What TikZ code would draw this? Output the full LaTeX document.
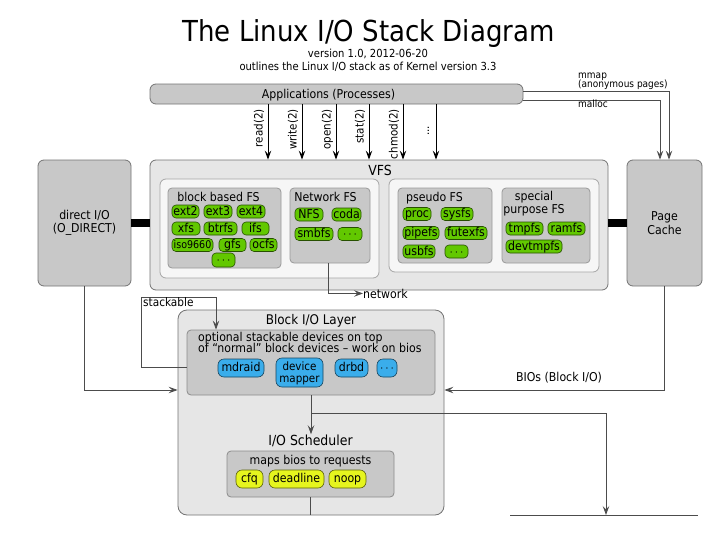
\documentclass[tikz,border=0pt]{standalone}
\usepackage{fontspec}
\setmainfont{DejaVu Sans}[FakeStretch=0.9]
\usetikzlibrary{arrows.meta}

\newcommand{\fs}[2]{\fontsize{#1}{#2}\selectfont}

\begin{document}
\begin{tikzpicture}[x=1pt, y=-1pt]
    \definecolor{fsgreen}{HTML}{62C800}
    \definecolor{devblue}{HTML}{3AADEB}
    \definecolor{schedyellow}{HTML}{E6F51E}
    \definecolor{boxgray}{HTML}{C8C8C8}
    \definecolor{layergray}{HTML}{E6E6E6}
    \definecolor{innergray}{HTML}{F6F6F6}
    \tikzset{
        frame/.style={draw=black!55, line width=0.8pt, rounded corners=6pt, inner sep=0pt},
        pill/.style={draw=#1!40!black, fill=#1, line width=0.6pt, rounded corners=4pt,
            inner sep=0pt, minimum height=13pt, text height=0.7em, text depth=0pt,
            font=\fs{12.2}{12.2}},
        txt/.style={inner sep=0pt, font=\fs{12.2}{12.2}},
        conn/.style={draw=black!70, line width=0.8pt},
        tip/.style={-{Stealth[length=9pt, width=6.5pt, inset=3.5pt]}},
    }
    \useasboundingbox (0,0) rectangle (726,538);

    % title
    \node[inner sep=0pt, font=\fs{28.9}{28.9}, anchor=base] (title) at (368.5,41.5) {The Linux I/O Stack Diagram};
    \node[txt, font=\fs{11.1}{11.1}, anchor=base] (version) at (368,57.5) {version 1.0, 2012-06-20};
    \node[txt, font=\fs{11.1}{11.1}, anchor=base] (subtitle) at (368,70) {outlines the Linux I/O stack as of Kernel version 3.3};

    % main boxes
    \node[frame, fill=boxgray, minimum width=373pt, minimum height=20pt] (apps) at (336.5,94) {};
    \node[txt, anchor=base] (appslabel) at (328.5,98.5) {Applications (Processes)};
    \node[frame, fill=layergray, minimum width=458pt, minimum height=130pt] (vfs) at (379,225) {};
    \node[txt, font=\fs{13.9}{13.9}, anchor=base] (vfslabel) at (380,175) {VFS};
    \node[frame, fill=boxgray, minimum width=93pt, minimum height=126pt,
          align=center, font=\fs{12.2}{13}] (direct) at (84.5,223) {direct I/O\\(O\_DIRECT)};
    \node[frame, fill=boxgray, minimum width=75pt, minimum height=126pt,
          align=center, font=\fs{12.2}{14}] (cache) at (664.5,223) {Page\\Cache};

    % file system groups
    \node[frame, fill=innergray, draw=black!35, minimum width=219pt, minimum height=99pt] (vfsleft) at (269.5,228.5) {};
    \node[frame, fill=innergray, draw=black!35, minimum width=210pt, minimum height=93pt] (vfsright) at (494,225.5) {};
    \node[frame, fill=boxgray, draw=black!40, rounded corners=4pt, minimum width=113pt, minimum height=80pt] (fsblock) at (224.5,228) {};
    \node[frame, fill=boxgray, draw=black!40, rounded corners=4pt, minimum width=80pt, minimum height=75pt] (fsnet) at (330,225.5) {};
    \node[frame, fill=boxgray, draw=black!40, rounded corners=4pt, minimum width=94pt, minimum height=75pt] (fspseudo) at (445,225.5) {};
    \node[frame, fill=boxgray, draw=black!40, rounded corners=4pt, minimum width=88pt, minimum height=75pt] (fsspecial) at (546,225.5) {};
    \node[txt, anchor=base] (blocklabel) at (218.5,201) {block based FS};
    \node[txt, anchor=base] (netlabel2) at (325.5,201) {Network FS};
    \node[txt, anchor=base] (pseudolabel) at (434.5,201) {pseudo FS};
    \node[txt, anchor=base] (speciallabel) at (534,200) {special};
    \node[txt, anchor=base] (speciallabel2) at (534,213) {purpose FS};

    % block based
    \node[pill=fsgreen, minimum width=27pt] (ext2) at (185.5,211.5) {ext2};
    \node[pill=fsgreen, minimum width=28pt] (ext3) at (218,211.5) {ext3};
    \node[pill=fsgreen, minimum width=28pt] (ext4) at (251,211.5) {ext4};
    \node[pill=fsgreen, minimum width=28pt] (xfs) at (186,228.5) {xfs};
    \node[pill=fsgreen, minimum width=33pt] (btrfs) at (220.5,228.5) {btrfs};
    \node[pill=fsgreen, minimum width=27pt] (ifs) at (255.5,228.5) {ifs};
    \node[pill=fsgreen, minimum width=41pt, font=\fs{10.6}{10.6}] (iso9660) at (192.5,245) {iso9660};
    \node[pill=fsgreen, minimum width=27pt] (gfs) at (232.5,245) {gfs};
    \node[pill=fsgreen, minimum width=27pt] (ocfs) at (263.5,245) {ocfs};
    \node[pill=fsgreen, minimum width=23pt, minimum height=14pt] (blkmore) at (223.5,260) {$\cdots$};

    % network
    \node[pill=fsgreen, minimum width=28pt] (nfs) at (309,214.5) {NFS};
    \node[pill=fsgreen, minimum width=29pt] (coda) at (346.5,214.5) {coda};
    \node[pill=fsgreen, minimum width=38pt] (smbfs) at (314,234) {smbfs};
    \node[pill=fsgreen, minimum width=24pt] (netmore) at (350,234) {$\cdots$};

    % pseudo
    \node[pill=fsgreen, minimum width=28pt] (proc) at (417,214) {proc};
    \node[pill=fsgreen, minimum width=32pt] (sysfs) at (457,214) {sysfs};
    \node[pill=fsgreen, minimum width=36pt] (pipefs) at (421,233) {pipefs};
    \node[pill=fsgreen, minimum width=42pt] (futexfs) at (466,233) {futexfs};
    \node[pill=fsgreen, minimum width=32pt] (usbfs) at (419,251.5) {usbfs};
    \node[pill=fsgreen, minimum width=23pt] (pseudomore) at (456.5,251.5) {$\cdots$};

    % special purpose
    \node[pill=fsgreen, minimum width=37pt] (tmpfs) at (524.5,228.5) {tmpfs};
    \node[pill=fsgreen, minimum width=37pt] (ramfs) at (566.5,228.5) {ramfs};
    \node[pill=fsgreen, minimum width=56pt] (devtmpfs) at (534,246.5) {devtmpfs};

    % block layer
    \node[frame, fill=layergray, rounded corners=9pt, minimum width=266pt, minimum height=205pt] (blocklayer) at (311,412.5) {};
    \node[txt, font=\fs{13.3}{13.3}, anchor=base] (layerlabel) at (311,324) {Block I/O Layer};
    \node[frame, fill=boxgray, draw=black!45, rounded corners=4pt, minimum width=248pt, minimum height=65pt] (stackbox) at (311,362.5) {};
    \node[txt, anchor=base west] (stacktext) at (198,341) {optional stackable devices on top};
    \node[txt, anchor=base west] (stacktext2) at (198,352) {of “normal” block devices – work on bios};
    \node[pill=devblue, rounded corners=6pt, minimum width=46pt, minimum height=18pt] (mdraid) at (241,368) {mdraid};
    \node[pill=devblue, rounded corners=6pt, minimum width=47pt, minimum height=29pt,
          align=center, text height=19.5pt, text depth=0pt, font=\fs{11.5}{11.5}] (devmapper) at (299.5,372.5) {device\\mapper};
    \node[pill=devblue, rounded corners=6pt, minimum width=33pt, minimum height=18pt] (drbd) at (351.5,368) {drbd};
    \node[pill=devblue, rounded corners=6pt, minimum width=20pt, minimum height=18pt] (devmore) at (387,368) {$\cdots$};

    % scheduler
    \node[txt, font=\fs{13.9}{13.9}, anchor=base] (schedlabel) at (310.5,445) {I/O Scheduler};
    \node[frame, fill=boxgray, draw=black!45, rounded corners=4pt, minimum width=167pt, minimum height=46pt] (schedbox) at (310.5,474) {};
    \node[txt, anchor=base] (schedtext) at (310.5,464) {maps bios to requests};
    \node[pill=schedyellow, rounded corners=6pt, minimum width=27pt, minimum height=18pt] (cfq) at (249.5,479) {cfq};
    \node[pill=schedyellow, rounded corners=6pt, minimum width=55pt, minimum height=18pt] (deadline) at (296.5,479) {deadline};
    \node[pill=schedyellow, rounded corners=6pt, minimum width=37pt, minimum height=18pt] (noop) at (347.5,479) {noop};

    % bars into the VFS
    \draw[line width=8pt] (direct.east) -- (direct.east -| vfs.west);
    \draw[line width=8pt] (vfs.east |- cache.west) -- (cache.west);

    % system calls
    \foreach \x/\call in {268/read(2), 302/write(2), 336/open(2), 369/stat(2), 403/chmod(2), 436/} {
        \coordinate (sc) at (\x,0);
        \draw[tip, line width=1pt] (apps.south -| sc) -- (vfs.north -| sc);
        \node[txt, font=\fs{11.5}{11.5}, rotate=90, anchor=base east] at (\x-5.5,109) {\call};
    }
    \node[txt, font=\fs{11.5}{11.5}, rotate=90, anchor=base] (moredots) at (429,131) {...};

    % memory paths
    \draw[conn, tip] ([yshift=3pt]apps.east) -| ([xshift=4.5pt]cache.north);
    \draw[conn, tip] ([yshift=-6pt]apps.east) -| ([xshift=-4.5pt]cache.north);
    \node[txt, font=\fs{10}{10}, anchor=base west] (mmaplabel) at (578,78) {mmap};
    \node[txt, font=\fs{10}{10}, anchor=base west] (anonlabel) at (578,87) {(anonymous pages)};
    \node[txt, font=\fs{10}{10}, anchor=base west] (malloclabel) at (578,107) {malloc};

    % network
    \node[txt, anchor=base west] (netlabel) at (363,298) {network};
    \draw[conn, tip] ([xshift=-2pt]fsnet.south) |- (netlabel.west);

    % into the block layer
    \draw[conn, tip] (direct.south) |- ([yshift=22.5pt]blocklayer.west);
    \draw[conn, tip] (cache.south) |- ([yshift=22.5pt]blocklayer.east);
    \node[txt, anchor=base] (bioslabel) at (559,381) {BIOs (Block I/O)};

    % stacking loop
    \coordinate (stackturn) at (141,297);
    \draw[conn, tip] ([yshift=-4.5pt]stackbox.west) -| (stackturn) -| ([xshift=-95pt]stackbox.north);
    \node[txt, font=\fs{11.7}{11.7}, anchor=base west] (stacklabel) at (143,306) {stackable};

    % down to the scheduler
    \draw[conn, tip] (stackbox.south) -- (stackbox.south |- schedlabel.north);
    \coordinate (nextlayer) at (606,515);
    \coordinate (nextleft) at (510,515);
    \coordinate (nextright) at (698,515);
    \draw[conn, tip] ([yshift=-18pt]stackbox.south) -| (nextlayer);
    \draw[conn] (nextleft) -- (nextright);
    \draw[conn] (schedbox.south) -- (schedbox.south |- blocklayer.south);
\end{tikzpicture}
\end{document}
